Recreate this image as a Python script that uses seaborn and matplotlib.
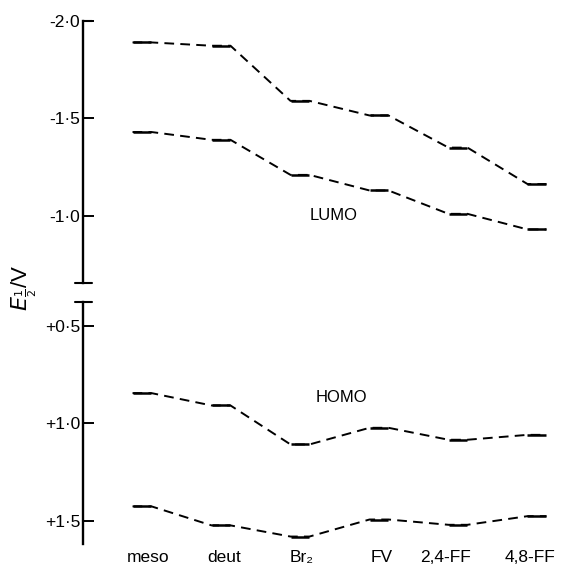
import numpy as np
import pandas as pd
import seaborn as sns
import matplotlib.pyplot as plt
from matplotlib.transforms import ScaledTranslation

compounds = ["meso", "deut", "Br₂", "FV", "2,4-FF", "4,8-FF"]

# half-wave potentials (V)
lumo_upper = [-1.89, -1.873, -1.59, -1.515, -1.35, -1.163]
lumo_lower = [-1.43, -1.39, -1.21, -1.13, -1.01, -0.93]
homo_upper = [0.845, 0.908, 1.107, 1.022, 1.083, 1.058]
homo_lower = [1.423, 1.52, 1.577, 1.49, 1.517, 1.473]

top_ticks = [-2.0, -1.5, -1.0]
top_ticklabels = ["-2·0", "-1·5", "-1·0"]
bot_ticks = [0.5, 1.0, 1.5]
bot_ticklabels = ["+0·5", "+1·0", "+1·5"]

sns.set_theme(style="white")
plt.rcParams["font.family"] = ["Liberation Sans", "DejaVu Sans"]
plt.rcParams["text.color"] = "black"

half = 0.12  # half width of each level bar


def path_frame(series):
    rows = []
    for name, vals in series.items():
        for i, v in enumerate(vals):
            rows.append({"line": name, "x": i - half, "E": v})
            rows.append({"line": name, "x": i + half, "E": v})
    return pd.DataFrame(rows)


fig = plt.figure(figsize=(5.73, 5.72), dpi=100)
ax_top = fig.add_axes([83 / 573, 1 - 283 / 572, 490 / 573, 262 / 572])
ax_bot = fig.add_axes([83 / 573, 1 - 544 / 572, 490 / 573, 242 / 572])

panels = [
    (ax_top, {"lu": lumo_upper, "ll": lumo_lower}, (-0.655, -2.0), top_ticks, top_ticklabels),
    (ax_bot, {"hu": homo_upper, "hl": homo_lower}, (1.615, 0.38), bot_ticks, bot_ticklabels),
]

x = np.arange(len(compounds))
for ax, series, ylim, ticks, ticklabels in panels:
    df = path_frame(series)
    sns.lineplot(data=df, x="x", y="E", units="line", estimator=None, sort=False,
                 color="black", lw=1.4, linestyle=(0, (5, 3.2)), ax=ax)
    for vals in series.values():
        ax.hlines(vals, x - half, x + half, color="black", lw=1.8)
    ax.set_xlim(-0.747, 5.456)
    ax.set_ylim(*ylim)
    ax.set_yticks(ticks)
    ax.set_yticklabels(ticklabels, fontsize=12.5)
    ax.set_xlabel("")
    ax.set_ylabel("")
    for s in ["top", "right", "bottom"]:
        ax.spines[s].set_visible(False)
    ax.spines["left"].set_linewidth(1.7)
    ax.spines["left"].set_color("black")
    ax.tick_params(axis="y", direction="in", length=8, width=1.4, color="black",
                   left=True, pad=2, labelcolor="black")
    ax.patch.set_alpha(0)

ax_top.set_xticks([])
ax_bot.set_xticks(x)
ax_bot.set_xticklabels(compounds, fontsize=12.5)
ax_bot.tick_params(axis="x", length=0, pad=4, labelcolor="black")
offsets = [6, 3, 2, 3, -12, -7]
for lab, dx in zip(ax_bot.get_xticklabels(), offsets):
    lab.set_transform(lab.get_transform() + ScaledTranslation(dx / 100, 0, fig.dpi_scale_trans))

# end caps of the broken axis
for x0, x1, yp in [(75, 92, 283), (75, 92, 302), (83, 92, 21)]:
    fig.lines.append(plt.Line2D([x0 / 573, x1 / 573], [1 - yp / 572] * 2,
                                transform=fig.transFigure, color="black", lw=1.5))

ax_top.text(2.42, -1.0, "LUMO", fontsize=12, ha="center", va="center")
ax_bot.text(2.52, 0.867, "HOMO", fontsize=12, ha="center", va="center")

fig.text(24 / 573, 1 - 288 / 572, r"$E_{\frac{1}{2}}$/V", rotation=90,
         fontsize=16, ha="center", va="center")

fig.savefig("out.png", dpi=100)
